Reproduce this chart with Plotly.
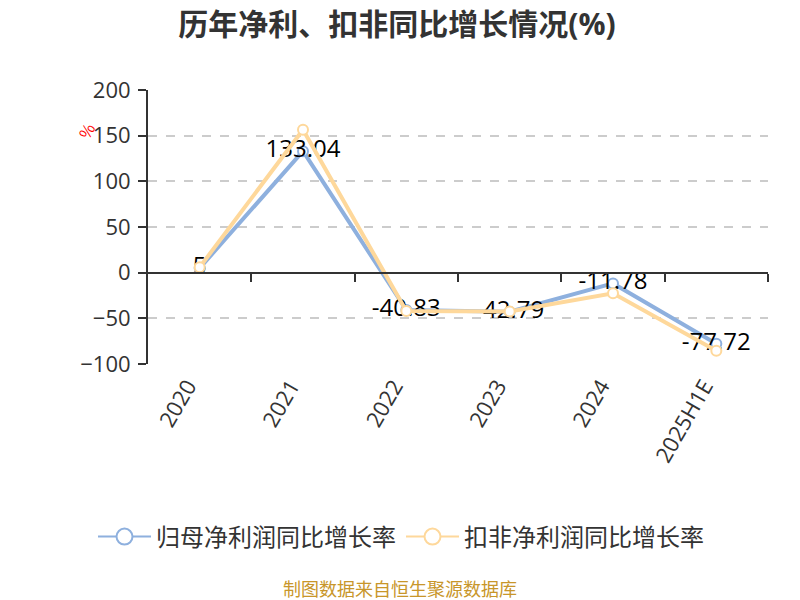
import plotly.graph_objects as go

# Data
years = ['2020', '2021', '2022', '2023', '2024', '2025H1E']
net_profit_growth = [5, 133.04, -40.83, -42.79, -11.78, -77.72]
deducted_growth = [6, 156.5, -42, -42.5, -22.5, -85.5]
net_labels = ['5', '133.04', '-40.83', '-42.79', '-11.78', '-77.72']

blue = '#8eb0de'
orange = '#fed89b'
font_cn = 'Noto Sans CJK SC'
font_num = 'Open Sans, Noto Sans CJK SC'
x_idx = list(range(len(years)))

W, H = 800, 600


def cy(py):
    # pixel y from the top -> container fraction
    return 1 - py / H


fig = go.Figure()

fig.add_trace(go.Scatter(
    x=x_idx, y=net_profit_growth, mode='lines+markers+text',
    name='归母净利润同比增长率',
    text=net_labels, textposition='middle center',
    textfont=dict(size=24, color='#000000', family=font_num),
    line=dict(color=blue, width=4),
    marker=dict(symbol='circle', size=10, color='white', line=dict(color=blue, width=2)),
    showlegend=False,
))
fig.add_trace(go.Scatter(
    x=x_idx, y=deducted_growth, mode='lines+markers',
    name='扣非净利润同比增长率',
    line=dict(color=orange, width=4),
    marker=dict(symbol='circle', size=10, color='white', line=dict(color=orange, width=2)),
    showlegend=False,
))

# legend-only entries with bigger symbols
for nm, c in [('归母净利润同比增长率', blue), ('扣非净利润同比增长率', orange)]:
    fig.add_trace(go.Scatter(
        x=[None], y=[None], mode='lines+markers', name=nm,
        line=dict(color=c, width=2),
        marker=dict(symbol='circle', size=22, color='white', line=dict(color=c, width=2)),
    ))

# axis line at y=0 with ticks between categories
fig.add_trace(go.Scatter(x=[None], y=[None], xaxis='x2', showlegend=False, hoverinfo='skip'))

y_min, y_max = -100, 200
left, right, top, bottom = 148, 768, 90, 364   # plot area in pixels
plot_w = right - left
plot_h = bottom - top
zero_frac = (0 - y_min) / (y_max - y_min)

fig.update_layout(
    width=W, height=H,
    margin=dict(l=left, r=W - right, t=top, b=H - bottom),
    paper_bgcolor='white', plot_bgcolor='white',
    font=dict(family=font_cn, color='#333333'),
    title=dict(text='<b>历年净利、扣非同比增长情况(%)</b>', x=397 / W, xanchor='center',
               y=cy(24), yanchor='middle', yref='container',
               font=dict(size=30, color='#333333', family=font_num)),
    xaxis=dict(
        range=[-0.5, len(years) - 0.5], tickvals=x_idx, ticktext=years,
        tickangle=-60, tickfont=dict(size=22, color='#333333', family=font_num),
        showgrid=False, zeroline=False, showline=False, ticks='',
        ticklabelshift=-12, ticklabelstandoff=4,
    ),
    xaxis2=dict(
        overlaying='x', anchor='free', position=zero_frac,
        range=[-0.5, len(years) - 0.5],
        tickvals=[i + 0.5 for i in x_idx], showticklabels=False,
        ticks='outside', ticklen=8, tickwidth=2, tickcolor='#333333',
        showline=True, linecolor='#333333', linewidth=2,
        showgrid=False, zeroline=False, side='bottom',
    ),
    yaxis=dict(
        range=[y_min, y_max], tickvals=[-100, -50, 0, 50, 100, 150, 200],
        tickfont=dict(size=22, color='#333333', family=font_num),
        showline=True, linecolor='#333333', linewidth=2,
        ticks='outside', ticklen=8, tickwidth=2, tickcolor='#333333',
        ticklabelstandoff=3,
        showgrid=True, gridcolor='#cccccc', griddash='dash', gridwidth=1.5,
        zeroline=False,
    ),
    legend=dict(orientation='h', x=401 / W, xanchor='center', xref='container',
                y=cy(537), yanchor='middle', yref='container',
                font=dict(size=24, color='#333333', family=font_cn),
                itemwidth=53),
    annotations=[
        dict(text='%', xref='paper', yref='paper', x=(86 - left) / plot_w, y=(bottom - 131) / plot_h,
             xanchor='center', yanchor='middle',
             showarrow=False, textangle=-60, font=dict(size=16, color='red', family=font_cn)),
        dict(text='制图数据来自恒生聚源数据库', xref='paper', yref='paper', x=(400 - left) / plot_w,
             y=(bottom - 588) / plot_h, xanchor='center', yanchor='middle', showarrow=False,
             font=dict(size=18, color='#c8962a', family=font_cn)),
    ],
)

# drop the page's default body margin so the figure fills the window
fig.write_html('out.html', config={'displayModeBar': False},
               post_script="document.body.style.margin='0';")
